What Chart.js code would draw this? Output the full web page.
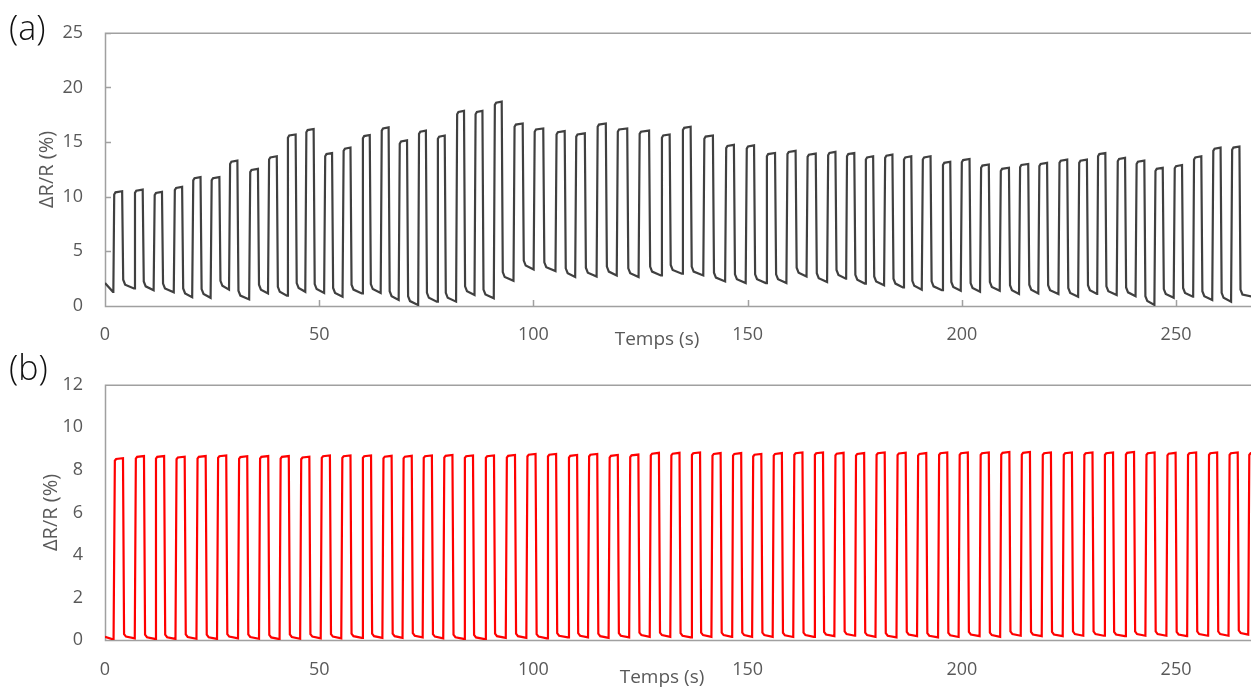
<!DOCTYPE html>
<html>
<head>
<meta charset="utf-8">
<script src="https://cdn.jsdelivr.net/npm/chart.js@4.4.1/dist/chart.umd.min.js"></script>
<style>
  html, body { margin: 0; padding: 0; background: #fff; }
  #wrap { position: relative; width: 1251px; height: 688px; overflow: hidden; }
  canvas { position: absolute; left: 0; }
  #chartA { top: 0; }
  #chartB { top: 352px; }
  .tag { position: absolute; left: 9px; font-family: "Open Sans", sans-serif; font-weight: 300; font-size: 34px; color: #111; line-height: 1; }
</style>
</head>
<body>
<div id="wrap">
  <canvas id="chartA" width="1251" height="352"></canvas>
  <canvas id="chartB" width="1251" height="336"></canvas>
  <div class="tag" style="top: 10px;">(a)</div>
  <div class="tag" style="top: 350px;">(b)</div>
</div>
<script>
// axes
const timeTicks = [0, 50, 100, 150, 200, 250];
const ticksA = [0, 5, 10, 15, 20, 25];
const ticksB = [0, 2, 4, 6, 8, 10, 12];
const yTitle = 'ΔR/R (%)';
const xTitle = 'Temps (s)';

// (a) response, one entry per cycle: rise time, fall time, plateau, settled baseline
const startA = [2.1, 1.3];
const riseA = [
  1.95, 6.8, 11.4, 16.1, 20.4, 24.7, 29.0, 33.7, 38.1, 42.5,
  46.8, 51.2, 55.5, 60.0, 64.4, 68.6, 73.1, 77.5, 82.0, 86.3,
  90.8, 95.4, 100.1, 105.2, 109.8, 114.8, 119.5, 124.6, 129.8, 134.7,
  139.7, 144.8, 149.6, 154.3, 159.1, 163.8, 168.6, 173.0, 177.4, 181.9,
  186.3, 190.7, 195.4, 199.8, 204.3, 208.9, 213.4, 217.9, 222.6, 227.2,
  231.6, 236.2, 240.6, 245.0, 249.5, 254.0, 258.5, 262.9
];
const fallA = [
  4.1, 8.9, 13.4, 18.1, 22.4, 26.8, 31.0, 35.8, 40.2, 44.6,
  48.8, 53.1, 57.4, 61.9, 66.3, 70.6, 75.0, 79.4, 83.9, 88.2,
  92.7, 97.6, 102.4, 107.4, 112.1, 117.0, 122.0, 127.1, 131.9, 136.8,
  142.0, 146.9, 151.6, 156.5, 161.3, 166.0, 170.6, 175.0, 179.4, 183.9,
  188.3, 192.8, 197.4, 201.9, 206.4, 211.1, 215.6, 220.0, 224.7, 229.3,
  233.6, 238.2, 242.7, 247.0, 251.5, 256.0, 260.5, 264.9
];
const peakA = [
  10.5, 10.65, 10.45, 10.9, 11.8, 11.8, 13.3, 12.55, 13.7, 15.7,
  16.2, 14.0, 14.5, 15.65, 16.35, 15.15, 16.05, 15.6, 17.85, 17.85,
  18.7, 16.7, 16.25, 16.0, 15.8, 16.7, 16.25, 16.05, 15.7, 16.4,
  15.6, 14.75, 14.7, 14.0, 14.2, 13.95, 14.1, 14.0, 13.7, 13.85,
  13.7, 13.7, 13.2, 13.45, 12.95, 12.65, 13.0, 13.1, 13.4, 13.4,
  14.0, 13.55, 13.3, 12.65, 12.9, 13.7, 14.5, 14.6
];
const lowA = [
  1.6, 1.45, 1.25, 0.8, 0.75, 1.5, 0.6, 1.15, 0.95, 1.3,
  1.2, 0.85, 1.15, 1.2, 0.55, 0.1, 0.4, 0.4, 1.0, 0.7,
  2.3, 3.35, 3.2, 2.65, 2.7, 2.8, 2.65, 2.8, 2.95, 2.8,
  2.25, 2.1, 2.1, 2.1, 2.7, 2.2, 2.5, 2.05, 1.9, 1.7,
  1.5, 1.45, 1.4, 1.3, 1.4, 1.1, 1.15, 1.1, 0.85, 1.1,
  1.0, 0.9, 0.1, 0.75, 0.85, 0.55, 0.4, 0.7
];

// (b) response
const startB = [0.15, 0.02];
const riseB = [
  2.1, 7.0, 11.7, 16.5, 21.4, 26.2, 31.1, 36.0, 40.8, 45.6,
  50.4, 55.2, 60.0, 64.8, 69.5, 74.2, 79.0, 83.8, 88.7, 93.6,
  98.4, 103.2, 108.1, 112.8, 117.6, 122.4, 127.2, 132.0, 136.8, 141.6,
  146.4, 151.1, 155.9, 160.7, 165.5, 170.3, 175.1, 179.9, 184.8, 189.6,
  194.5, 199.3, 204.2, 209.0, 213.8, 218.7, 223.6, 228.4, 233.2, 238.1,
  242.9, 247.8, 252.6, 257.5, 262.3, 266.9
];
const fallB = [
  4.3, 9.2, 13.9, 18.7, 23.6, 28.4, 33.3, 38.2, 43.0, 47.8,
  52.6, 57.4, 62.2, 67.0, 71.7, 76.4, 81.2, 86.0, 90.9, 95.8,
  100.6, 105.4, 110.3, 115.0, 119.8, 124.6, 129.4, 134.2, 139.0, 143.8,
  148.6, 153.3, 158.1, 162.9, 167.7, 172.5, 177.3, 182.1, 187.0, 191.8,
  196.7, 201.5, 206.4, 211.2, 216.0, 220.9, 225.8, 230.6, 235.4, 240.3,
  245.1, 250.0, 254.8, 259.7, 264.5, 269.1
];
const peakB = [
  8.55, 8.65, 8.65, 8.62, 8.65, 8.68, 8.64, 8.65, 8.65, 8.62,
  8.68, 8.68, 8.68, 8.66, 8.66, 8.68, 8.70, 8.68, 8.68, 8.70,
  8.75, 8.75, 8.70, 8.75, 8.70, 8.72, 8.80, 8.80, 8.82, 8.79,
  8.79, 8.75, 8.79, 8.82, 8.82, 8.80, 8.79, 8.82, 8.81, 8.79,
  8.82, 8.82, 8.82, 8.84, 8.84, 8.82, 8.82, 8.82, 8.82, 8.84,
  8.82, 8.80, 8.82, 8.82, 8.82, 8.82
];
const lowB = [
  0.08, 0.05, 0.05, 0.06, 0.05, 0.08, 0.06, 0.04, 0.06, 0.08,
  0.08, 0.10, 0.10, 0.10, 0.12, 0.08, 0.05, 0.04, 0.10, 0.10,
  0.08, 0.12, 0.12, 0.10, 0.12, 0.15, 0.15, 0.12, 0.15, 0.15,
  0.15, 0.15, 0.14, 0.15, 0.18, 0.20, 0.15, 0.12, 0.18, 0.12,
  0.14, 0.18, 0.15, 0.20, 0.18, 0.18, 0.20, 0.20, 0.18, 0.20,
  0.20, 0.18, 0.20, 0.20, 0.25, 0.25
];

const tMax = 267.5;

// turn the per-cycle readings into the trace: rise, plateau, fall, slow settling
function buildTrace(start, rises, falls, peaks, lows, shape) {
  const pts = [{ x: 0, y: start[0] }, { x: rises[0] - 0.1, y: start[1] }];
  for (let i = 0; i < rises.length; i++) {
    const prev = i === 0 ? start[1] : lows[i - 1];
    const next = i + 1 < rises.length ? rises[i + 1] : tMax + 2;
    pts.push({ x: rises[i], y: prev });
    pts.push({ x: rises[i] + 0.2, y: peaks[i] - shape.corner });
    pts.push({ x: rises[i] + 0.5, y: peaks[i] - shape.corner / 3 });
    pts.push({ x: falls[i] - 0.1, y: peaks[i] });
    pts.push({ x: falls[i] + 0.15, y: lows[i] + shape.knee[0] });
    pts.push({ x: falls[i] + 0.6, y: lows[i] + shape.knee[1] });
    pts.push({ x: next - 0.05, y: lows[i] });
  }
  return pts;
}

const tickColor = '#595959';
const frameColor = '#a0a0a0';

const framePlugin = {
  id: 'frame',
  beforeDatasetsDraw(chart, args, o) {
    const { ctx, chartArea: a, scales } = chart;
    ctx.save();
    ctx.strokeStyle = frameColor;
    ctx.lineWidth = 1.5;
    ctx.beginPath();
    ctx.moveTo(a.right + 2, a.top + 0.5);
    ctx.lineTo(a.left + 0.5, a.top + 0.5);
    ctx.lineTo(a.left + 0.5, a.bottom + 0.5);
    ctx.lineTo(a.right + 2, a.bottom + 0.5);
    if (o.innerTicks) {
      timeTicks.forEach(v => {
        const px = Math.round(scales.x.getPixelForValue(v)) + 0.5;
        ctx.moveTo(px, a.bottom);
        ctx.lineTo(px, a.bottom - 6);
      });
      o.yTicks.forEach(v => {
        const py = Math.round(scales.y.getPixelForValue(v)) + 0.5;
        ctx.moveTo(a.left, py);
        ctx.lineTo(a.left + 6, py);
      });
    }
    ctx.stroke();
    ctx.restore();
  },
  afterDraw(chart, args, o) {
    const { ctx } = chart;
    ctx.save();
    ctx.fillStyle = tickColor;
    ctx.font = '19px "Open Sans", sans-serif';
    ctx.textAlign = 'center';
    ctx.textBaseline = 'middle';
    ctx.fillText(xTitle, o.titleX, o.titleY);
    ctx.restore();
  }
};

function sensorChart(id, pts, color, yTicks, frameOpts, titleShift) {
  const yMax = yTicks[yTicks.length - 1];
  const canvas = document.getElementById(id);
  return new Chart(canvas.getContext('2d'), {
    type: 'scatter',
    data: {
      datasets: [{
        data: pts,
        showLine: true,
        borderColor: color,
        borderWidth: 2.2,
        pointRadius: 0,
        tension: 0
      }]
    },
    options: {
      responsive: false,
      animation: false,
      events: [],
      layout: { padding: { top: frameOpts.top, left: 0, right: 0, bottom: 0 } },
      plugins: {
        legend: { display: false },
        tooltip: { enabled: false },
        frame: frameOpts
      },
      scales: {
        x: {
          type: 'linear',
          min: 0,
          max: tMax,
          afterBuildTicks: s => { s.ticks = timeTicks.map(v => ({ value: v })); },
          afterFit: s => { s.height = frameOpts.xAxisHeight; },
          grid: { display: false, drawTicks: false },
          border: { display: false },
          ticks: {
            color: tickColor,
            font: { size: 18 },
            padding: frameOpts.xPad
          }
        },
        y: {
          type: 'linear',
          min: 0,
          max: yMax,
          afterBuildTicks: s => { s.ticks = yTicks.map(v => ({ value: v })); },
          afterFit: s => { s.width = 105; },
          grid: { display: false, drawTicks: false },
          border: { display: false },
          ticks: {
            color: tickColor,
            font: { size: 18 },
            padding: 22
          },
          title: {
            display: true,
            text: yTitle,
            color: tickColor,
            font: { size: 20 },
            padding: { top: titleShift, bottom: 0 }
          }
        }
      }
    },
    plugins: [framePlugin]
  });
}

Chart.defaults.font.family = '"Open Sans", sans-serif';

sensorChart('chartA',
  buildTrace(startA, riseA, fallA, peakA, lowA, { corner: 0.3, knee: [0.8, 0.35] }),
  '#404040', ticksA,
  { top: 29, xAxisHeight: 46, xPad: 18, innerTicks: true, yTicks: ticksA, titleX: 657, titleY: 340 },
  35);

sensorChart('chartB',
  buildTrace(startB, riseB, fallB, peakB, lowB, { corner: 0.12, knee: [0.2, 0.08] }),
  '#ff0000', ticksB,
  { top: 16, xAxisHeight: 48, xPad: 19, innerTicks: false, yTicks: ticksB, titleX: 662, titleY: 326 },
  39);
</script>
</body>
</html>
